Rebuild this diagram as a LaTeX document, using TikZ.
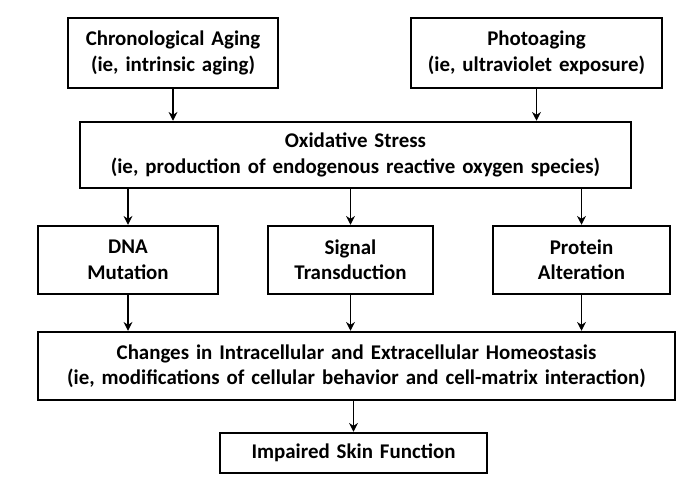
\documentclass[tikz,border=0pt]{standalone}
\usepackage{fontspec}
\setmainfont{Carlito}
\usetikzlibrary{arrows.meta}
\begin{document}
\begin{tikzpicture}[x=0.02cm,y=-0.02cm,
  box/.style={draw,line width=1.4pt,align=center,inner sep=0pt,font=\bfseries\fontsize{11.9}{14.5}\selectfont},
  arr/.style={line width=1.1pt,-{Stealth[length=5pt,width=5pt]}}]
\useasboundingbox (0,0) rectangle (685,492);
\node[box,text width=205*0.02cm,minimum width=210*0.02cm,minimum height=70*0.02cm] (chron) at (173,53) {Chronological Aging\\(ie, intrinsic aging)};
\node[box,text width=248*0.02cm,minimum width=251*0.02cm,minimum height=70*0.02cm] (photo) at (536.5,53) {Photoaging\\(ie, ultraviolet exposure)};
\node[box,text width=545*0.02cm,minimum width=551*0.02cm,minimum height=66*0.02cm] (ox) at (355.5,155) {Oxidative Stress\\(ie, production of endogenous reactive oxygen species)};
\node[box,text width=170*0.02cm,minimum width=180*0.02cm,minimum height=68*0.02cm] (dna) at (128,260) {DNA\\Mutation};
\node[box,text width=160*0.02cm,minimum width=165*0.02cm,minimum height=68*0.02cm] (sig) at (350.5,260) {Signal\\Transduction};
\node[box,text width=170*0.02cm,minimum width=177*0.02cm,minimum height=68*0.02cm] (prot) at (581.5,260) {Protein\\Alteration};
\node[box,text width=632*0.02cm,minimum width=637*0.02cm,minimum height=68*0.02cm] (chg) at (356.5,366) {Changes in Intracellular and Extracellular Homeostasis\\(ie, modifications of cellular behavior and cell-matrix interaction)};
\node[box,text width=260*0.02cm,minimum width=267*0.02cm,minimum height=40*0.02cm] (imp) at (353.5,453) {Impaired Skin Function};
\draw[arr] (chron.south) -- (chron.south |- ox.north);
\draw[arr] (photo.south) -- (photo.south |- ox.north);
\draw[arr] (ox.south -| dna) -- (dna.north);
\draw[arr] (ox.south -| sig) -- (sig.north);
\draw[arr] (ox.south -| prot) -- (prot.north);
\draw[arr] (dna.south) -- (dna.south |- chg.north);
\draw[arr] (sig.south) -- (sig.south |- chg.north);
\draw[arr] (prot.south) -- (prot.south |- chg.north);
\draw[arr] (chg.south -| imp) -- (imp.north);
\end{tikzpicture}
\end{document}
